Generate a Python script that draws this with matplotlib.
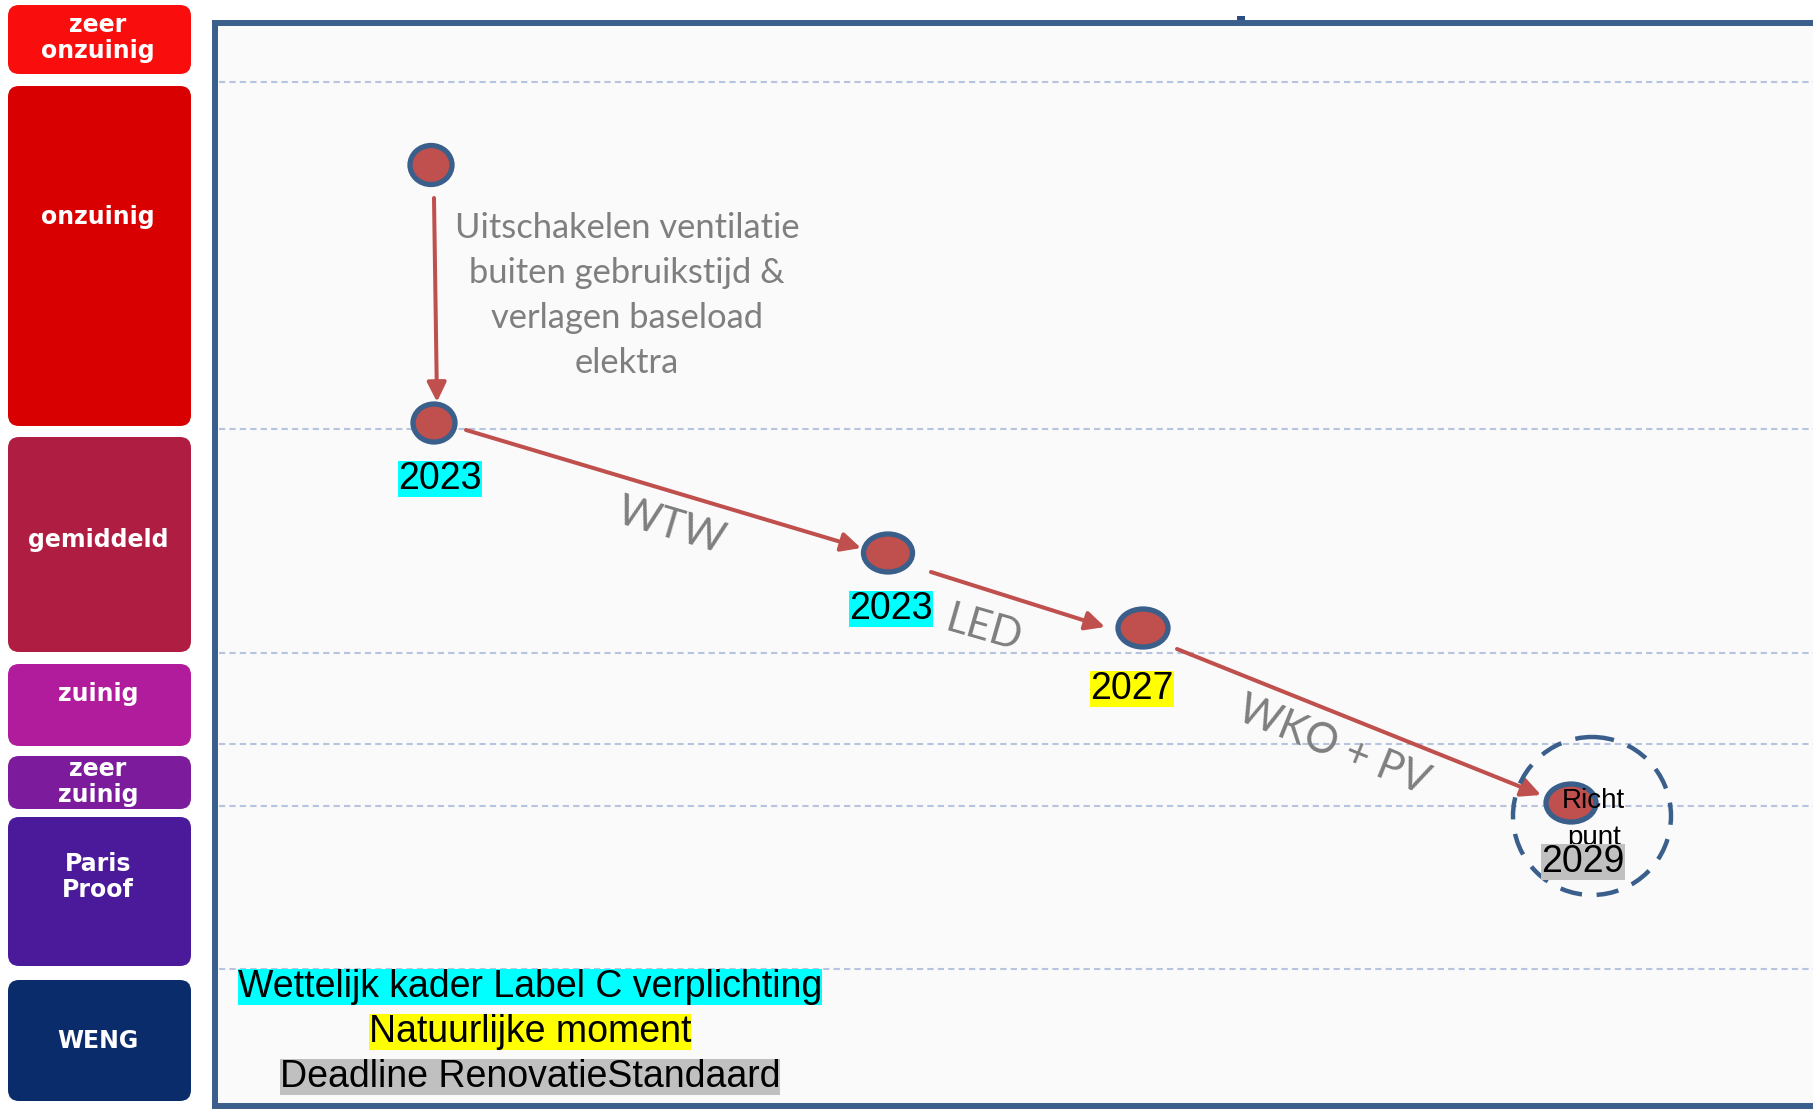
import matplotlib
matplotlib.use("Agg")
import matplotlib.pyplot as plt
from matplotlib.patches import Ellipse, Rectangle, FancyBboxPatch, Circle

# ---------------- data ----------------
# energy-label bands (left legend), top/bottom in reference pixel units
band_names = ["zeer\nonzuinig", "onzuinig", "gemiddeld", "zuinig", "zeer\nzuinig", "Paris\nProof", "WENG"]
band_top = [5, 86, 437, 664, 756, 817, 980]
band_bottom = [74, 426, 652, 746, 809, 966, 1101]
band_label_y = [38, 217, 540, 694, 782, 877, 1041]
band_colors = ["#f90d0d", "#d80000", "#b01d42", "#b01c9c", "#7c1b9c", "#4a1a9a", "#0b2c6b"]

# dashed reference levels
grid_y = [82, 429, 653, 744, 806, 969]

# measure path: points (x, y) and sizes
step_x = [431, 434, 888, 1143, 1571]
step_y = [165, 423, 553, 628, 803]
step_w = [42, 42, 49, 50, 50]
step_h = [39, 38, 38, 38, 38]

# arrows between steps (start, end)
arrow_start = [(434, 198), (466, 430), (931, 572), (1177, 649)]
arrow_end = [(437, 402), (861, 548), (1105, 627), (1541, 795)]

# measure labels along arrows
measure_text = ["WTW", "LED", "WKO + PV"]
measure_xy = [(671, 526), (984, 629), (1333, 746)]
measure_rot = [-16.5, -16, -22]

# year labels
year_text = ["2023", "2023", "2027", "2029"]
year_xy = [(440, 479), (891, 609), (1132, 689), (1583, 862)]
year_colors = ["#00ffff", "#00ffff", "#ffff00", "#c0c0c0"]

# first measure description
desc_lines = ["Uitschakelen ventilatie", "buiten gebruikstijd &", "verlagen baseload", "elektra"]
desc_x = 627
desc_baselines = [238, 283, 328, 373]

# legend
legend_text = ["Wettelijk kader Label C verplichting", "Natuurlijke moment", "Deadline RenovatieStandaard"]
legend_colors = ["#00ffff", "#ffff00", "#c0c0c0"]
legend_x = 530
legend_y = [987, 1032, 1077]

# target point
target_center = (1592, 816)
target_radius = 79

# ---------------- drawing ----------------
fig = plt.figure(figsize=(18.13, 11.10), dpi=100)
fig.patch.set_facecolor("white")
ax = fig.add_axes([0, 0, 1, 1])
ax.set_xlim(0, 1813)
ax.set_ylim(1110, 0)
ax.axis("off")

frame_col = "#3b5f8c"
ax.add_patch(Rectangle((215, 23), 1700, 1083, facecolor="#fafafa", edgecolor=frame_col, lw=4.3, zorder=0))
ax.add_patch(Rectangle((1237, 16), 8, 4, facecolor="#2d4f80", edgecolor="none", zorder=1))

ax.hlines(grid_y, 219, 1813, colors="#b7c4e0", lw=1.5, linestyles=(0, (3, 2)), zorder=1)

# left bands
for name, t, b, ly, c in zip(band_names, band_top, band_bottom, band_label_y, band_colors):
    ax.add_patch(FancyBboxPatch((8, t), 183, b - t,
                                boxstyle="round,pad=0,rounding_size=11",
                                facecolor=c, edgecolor="none", zorder=2))
    ax.text(98, ly, name, ha="center", va="center", color="white", fontsize=17,
            fontweight="bold", family="DejaVu Sans", linespacing=1.08, zorder=3)

# arrows
arrow_col = "#c0504d"
for s, e in zip(arrow_start, arrow_end):
    ax.annotate("", xy=e, xytext=s,
                arrowprops=dict(arrowstyle="-|>,head_length=0.65,head_width=0.32",
                                mutation_scale=18, color=arrow_col, lw=2.9,
                                shrinkA=0, shrinkB=0), zorder=4)

# points
for x, y, w, h in zip(step_x, step_y, step_w, step_h):
    ax.add_patch(Ellipse((x, y), w, h, facecolor="#c0504d", edgecolor="#3a5f8b", lw=3.8, zorder=5))

# target dashed circle
ax.add_patch(Circle(target_center, target_radius, facecolor="none", edgecolor=frame_col,
                    lw=3.2, linestyle=(0, (5, 3.3)), zorder=5))

# Richt punt
ax.text(1593, 808, "Richt", ha="center", va="baseline", fontsize=20, family="Liberation Sans",
        color="black", zorder=6)
ax.text(1594, 845, "punt", ha="center", va="baseline", fontsize=20, family="Liberation Sans",
        color="black", zorder=6)

# description
for line, yb in zip(desc_lines, desc_baselines):
    ax.text(desc_x, yb, line, ha="center", va="baseline", fontsize=24.8, family="Lato",
            color="#7f7f7f", zorder=6)

# measure labels
for t, (x, y), r in zip(measure_text, measure_xy, measure_rot):
    ax.text(x, y, t, ha="center", va="center", rotation=r, rotation_mode="anchor",
            fontsize=30, family="Lato", color="#7f7f7f", zorder=6)

# year labels
for t, (x, y), c in zip(year_text, year_xy, year_colors):
    ax.text(x, y, t, ha="center", va="center", fontsize=27, family="Liberation Sans",
            color="black", zorder=7,
            bbox=dict(boxstyle="square,pad=0", facecolor=c, edgecolor="none"))

# legend
for t, y, c in zip(legend_text, legend_y, legend_colors):
    ax.text(legend_x, y, t, ha="center", va="center", fontsize=27, family="Liberation Sans",
            color="black", zorder=7,
            bbox=dict(boxstyle="square,pad=0", facecolor=c, edgecolor="none"))

fig.savefig("out.png", dpi=100)
